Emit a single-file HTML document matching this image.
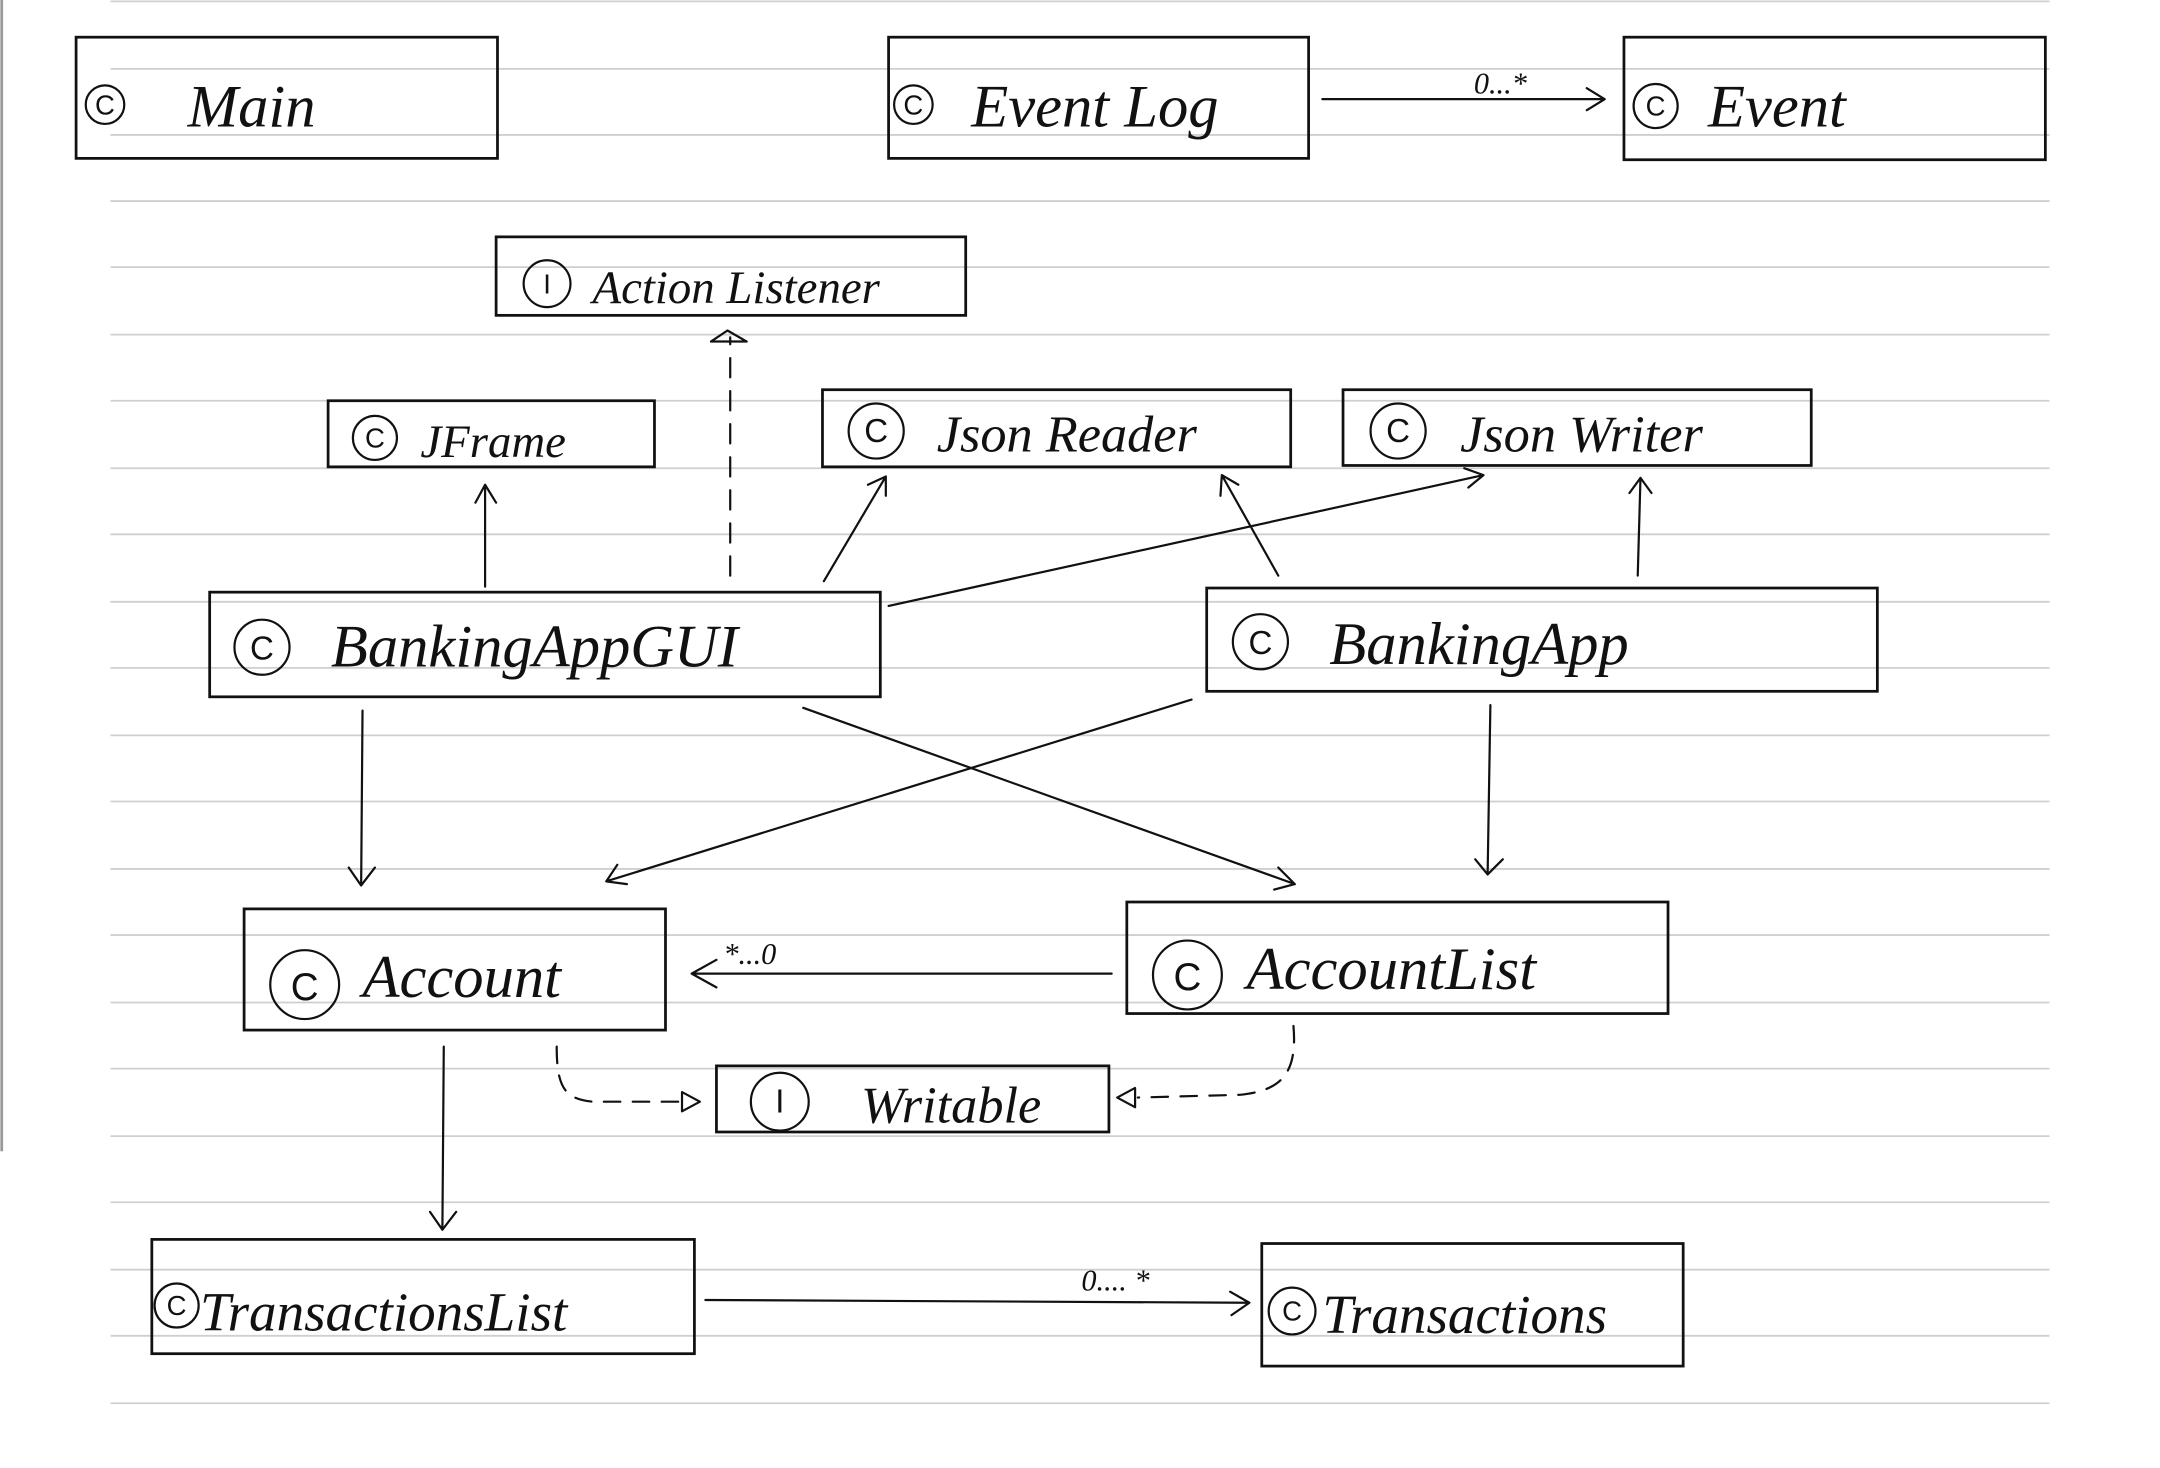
<!DOCTYPE html>
<html><head><meta charset="utf-8"><style>
html,body{margin:0;padding:0;background:#fff;}
svg{display:block;}
text{font-family:"Liberation Serif",serif;font-style:italic;fill:#111;}
.ic{font-family:"Liberation Sans",sans-serif;font-style:normal;}
</style></head><body>
<svg width="2160" height="1468" viewBox="0 0 1568 1066" xmlns="http://www.w3.org/2000/svg">
<rect x="0" y="0" width="1568" height="1066" fill="#fff"/>
<rect x="0" y="0" width="2" height="836" fill="#999"/>
<g stroke="#cfcfcf" stroke-width="1.3">
<line x1="80" y1="1" x2="1488" y2="1"/>
<line x1="80" y1="50" x2="1488" y2="50"/>
<line x1="80" y1="98" x2="1488" y2="98"/>
<line x1="80" y1="146" x2="1488" y2="146"/>
<line x1="80" y1="194" x2="1488" y2="194"/>
<line x1="80" y1="243" x2="1488" y2="243"/>
<line x1="80" y1="291" x2="1488" y2="291"/>
<line x1="80" y1="340" x2="1488" y2="340"/>
<line x1="80" y1="388" x2="1488" y2="388"/>
<line x1="80" y1="437" x2="1488" y2="437"/>
<line x1="80" y1="485" x2="1488" y2="485"/>
<line x1="80" y1="534" x2="1488" y2="534"/>
<line x1="80" y1="582" x2="1488" y2="582"/>
<line x1="80" y1="631" x2="1488" y2="631"/>
<line x1="80" y1="679" x2="1488" y2="679"/>
<line x1="80" y1="728" x2="1488" y2="728"/>
<line x1="80" y1="776" x2="1488" y2="776"/>
<line x1="80" y1="825" x2="1488" y2="825"/>
<line x1="80" y1="873" x2="1488" y2="873"/>
<line x1="80" y1="922" x2="1488" y2="922"/>
<line x1="80" y1="970" x2="1488" y2="970"/>
<line x1="80" y1="1019" x2="1488" y2="1019"/>
</g>
<g fill="none" stroke="#111" stroke-width="2">
<rect x="55" y="27" width="306" height="88"/>
<rect x="645" y="27" width="305" height="88"/>
<rect x="1179" y="27" width="306" height="89"/>
<rect x="360" y="172" width="341" height="57"/>
<rect x="238" y="291" width="237" height="48"/>
<rect x="597" y="283" width="340" height="56"/>
<rect x="975" y="283" width="340" height="55"/>
<rect x="152" y="430" width="487" height="76"/>
<rect x="876" y="427" width="487" height="75"/>
<rect x="177" y="660" width="306" height="88"/>
<rect x="818" y="655" width="393" height="81"/>
<rect x="520" y="774" width="285" height="48"/>
<rect x="110" y="900" width="394" height="83"/>
<rect x="916" y="903" width="306" height="89"/>
</g>
<g fill="none" stroke="#111" stroke-width="1.6">
<circle cx="76" cy="76" r="14"/>
<circle cx="663" cy="76" r="14"/>
<circle cx="1202" cy="77" r="16"/>
<circle cx="397" cy="206" r="17"/>
<circle cx="272" cy="318" r="16"/>
<circle cx="636" cy="313" r="20"/>
<circle cx="1015" cy="313" r="20"/>
<circle cx="190" cy="470" r="20"/>
<circle cx="915" cy="466" r="20"/>
<circle cx="221" cy="715" r="25"/>
<circle cx="862" cy="708" r="25"/>
<circle cx="566" cy="800" r="21"/>
<circle cx="128" cy="948" r="16"/>
<circle cx="938" cy="952" r="17"/>
</g>
<g class="ic" text-anchor="middle" font-size="20">
<text class="ic" x="76" y="83">C</text><text class="ic" x="663" y="83">C</text><text class="ic" x="1202" y="84">C</text>
<text class="ic" x="397" y="213">I</text><text class="ic" x="272" y="325">C</text><text class="ic" x="636" y="321" font-size="24">C</text>
<text class="ic" x="1015" y="321" font-size="24">C</text><text class="ic" x="190" y="479" font-size="24">C</text><text class="ic" x="915" y="475" font-size="24">C</text>
<text class="ic" x="221" y="726" font-size="28">C</text><text class="ic" x="862" y="719" font-size="28">C</text><text class="ic" x="566" y="808" font-size="24">I</text>
<text class="ic" x="128" y="955">C</text><text class="ic" x="938" y="959">C</text>
</g>
<g font-size="44" fill="#222">
<text x="136" y="92">Main</text>
<text x="705" y="92">Event Log</text>
<text x="1240" y="92">Event</text>
<text x="430" y="220" font-size="34">Action Listener</text>
<text x="305" y="332" font-size="34">JFrame</text>
<text x="680" y="328" font-size="38">Json Reader</text>
<text x="1060" y="328" font-size="38">Json Writer</text>
<text x="240" y="484">BankingAppGUI</text>
<text x="965" y="482">BankingApp</text>
<text x="263" y="724">Account</text>
<text x="905" y="718">AccountList</text>
<text x="625" y="815" font-size="38">Writable</text>
<text x="145" y="966" font-size="40">TransactionsList</text>
<text x="960" y="968" font-size="40">Transactions</text>
</g>
<g font-size="22" style="font-style:normal">
<text x="1070" y="68">0...*</text>
<text x="525" y="700">*...0</text>
<text x="785" y="937">0.... *</text>
</g>
<g fill="none" stroke="#111" stroke-width="1.6" stroke-linecap="round" stroke-linejoin="round">
<path d="M960 72 L1165 72 M1152 64 L1165 72 L1152 80"/>
<path d="M352 426 L352 352 M345 365 L352 352 L360 365"/>
<path d="M530 418 L530 245" stroke-dasharray="14 10"/>
<path d="M516 248 L528 240 L542 248 Z"/>
<path d="M598 422 L643 346 M630 352 L643 346 L643 360"/>
<path d="M645 440 L1077 345 M1063 340 L1077 345 L1066 354"/>
<path d="M928 418 L887 345 M886 360 L887 345 L899 352"/>
<path d="M1189 418 L1191 347 M1183 358 L1191 347 L1199 358"/>
<path d="M263 516 L262 643 M253 630 L262 643 L272 630"/>
<path d="M865 508 L440 640 M448 628 L440 640 L455 642"/>
<path d="M583 514 L940 642 M928 630 L940 642 L925 646"/>
<path d="M1082 512 L1080 635 M1071 624 L1080 635 L1091 624"/>
<path d="M807 707 L502 707 M520 697 L502 707 L520 717"/>
<path d="M404 760 C404 790 410 798 430 800 L495 800" stroke-dasharray="12 9"/>
<path d="M495 793 L508 800 L495 807 Z"/>
<path d="M939 745 C942 780 930 792 900 795 L826 797" stroke-dasharray="12 9"/>
<path d="M824 790 L811 797 L824 804 Z"/>
<path d="M322 760 L321 893 M312 880 L321 893 L331 880"/>
<path d="M512 944 L907 946 M893 938 L907 946 L894 955"/>
</g>
</svg>
</body></html>
